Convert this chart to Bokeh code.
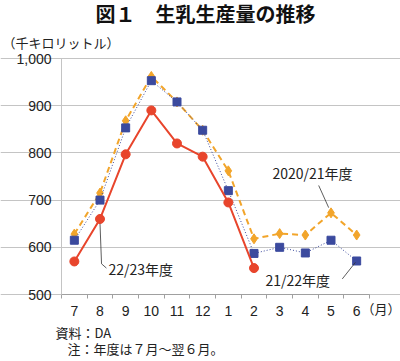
from bokeh.plotting import figure
from bokeh.models import Label, FixedTicker, NumeralTickFormatter, Range1d
from bokeh.embed import file_html
from bokeh.resources import INLINE

months = ["7", "8", "9", "10", "11", "12", "1", "2", "3", "4", "5", "6"]
fy2020 = [628, 715, 868, 962, 908, 848, 762, 618, 629, 626, 673, 626]
fy2021 = [615, 700, 853, 953, 908, 848, 720, 587, 600, 588, 615, 571]
fy2022 = [570, 660, 797, 890, 820, 792, 695, 556]
y_ticks = [500, 600, 700, 800, 900, 1000]

xs = list(range(len(months)))
Y_MIN, Y_MAX = 500, 1000
X_MIN, X_MAX = -0.5, len(months) - 0.5

# layout (pixels): canvas and the plotting area inside it
W, H = 400, 361
PL, PR, PT, PB = 61, 369, 58, 294
kx = (PR - PL) / (X_MAX - X_MIN)
ky = (PB - PT) / (Y_MAX - Y_MIN)
x_range = Range1d(X_MIN - PL / kx, X_MAX + (W - PR) / kx)
y_range = Range1d(Y_MIN - (H - PB) / ky, Y_MAX + PT / ky)

JP = "Noto Sans CJK JP"
NUM = "Liberation Sans"

p = figure(frame_width=W, frame_height=H, output_backend="svg", toolbar_location=None,
           x_range=x_range, y_range=y_range,
           min_border_left=0, min_border_right=0, min_border_top=0, min_border_bottom=0)
p.outline_line_color = None
p.background_fill_color = "white"
p.border_fill_color = "white"

p.xgrid.grid_line_color = None
p.ygrid.ticker = FixedTicker(ticks=y_ticks)
p.ygrid.bounds = (X_MIN, X_MAX)
p.ygrid.grid_line_color = "#C4C4C4"
p.ygrid.grid_line_width = 1

p.xaxis.fixed_location = Y_MIN
p.xaxis.bounds = (X_MIN, X_MAX)
p.xaxis.ticker = FixedTicker(ticks=xs, minor_ticks=[i - 0.5 for i in range(len(months) + 1)])
p.xaxis.major_label_overrides = {i: m for i, m in enumerate(months)}
p.xaxis.major_tick_out = 0
p.xaxis.major_tick_in = 0
p.xaxis.minor_tick_out = 4
p.xaxis.minor_tick_in = 0
p.xaxis.minor_tick_line_color = "#A0A0A0"
p.xaxis.axis_line_color = "#A0A0A0"
p.xaxis.major_label_standoff = 7
p.xaxis.major_label_text_font = NUM
p.xaxis.major_label_text_font_size = "14px"
p.xaxis.major_label_text_color = "#222222"

p.yaxis.fixed_location = X_MIN
p.yaxis.bounds = (Y_MIN, Y_MAX)
p.yaxis.ticker = FixedTicker(ticks=y_ticks)
p.yaxis.formatter = NumeralTickFormatter(format="0,0")
p.yaxis.major_tick_out = 0
p.yaxis.major_tick_in = 0
p.yaxis.minor_tick_out = 0
p.yaxis.minor_tick_in = 0
p.yaxis.axis_line_color = "#C4C4C4"
p.yaxis.major_label_standoff = 10
p.yaxis.major_label_text_font = NUM
p.yaxis.major_label_text_font_size = "14px"
p.yaxis.major_label_text_color = "#222222"

# series
c20, c21, c22 = "#F2A52B", "#3B4A9E", "#E8452C"
p.line(xs, fy2020, line_color=c20, line_width=2, line_dash="6 4")
p.scatter(xs, fy2020, marker="diamond", size=10, fill_color=c20, line_color=c20)
p.line(xs, fy2021, line_color=c21, line_width=1, line_dash="1 2")
p.scatter(xs, fy2021, marker="square", size=8, fill_color=c21, line_color=c21)
p.line(xs[:len(fy2022)], fy2022, line_color=c22, line_width=2)
p.scatter(xs[:len(fy2022)], fy2022, marker="circle", size=9, fill_color=c22, line_color=c22)

# leader lines for series labels
lead = "#333333"
p.line([1.0, 1.06, 1.25], [650, 565, 556], line_color=lead, line_width=0.8)
p.line([9.52, 9.91], [731, 684], line_color=lead, line_width=0.8)
p.line([10.44, 10.95], [533, 568], line_color=lead, line_width=0.8)

def px_x(v):
    return x_range.start + v / kx

def px_y(v):
    return y_range.end - v / ky

def lab(x, y, t, size="14px", align="left", style="normal", color="#222222"):
    p.add_layout(Label(x=x, y=y, text=t, text_font=JP, text_font_size=size,
                       text_align=align, text_baseline="middle", text_font_style=style,
                       text_color=color))

lab(7.72, 757, "2020/21年度")
lab(1.33, 555, "22/23年度")
lab(7.45, 531, "21/22年度")

lab(px_x(95), px_y(13), "図１　生乳生産量の推移", size="20px", style="bold", color="#111111")
lab(px_x(2), px_y(42), "（千キロリットル）", size="13px")
lab(px_x(361), px_y(308), "（月）", size="13px")
lab(px_x(55), px_y(332), "資料：DA", size="13px")
lab(px_x(67), px_y(348), "注：年度は７月～翌６月。", size="13px")

open("out.html", "w").write(file_html(p, INLINE))
